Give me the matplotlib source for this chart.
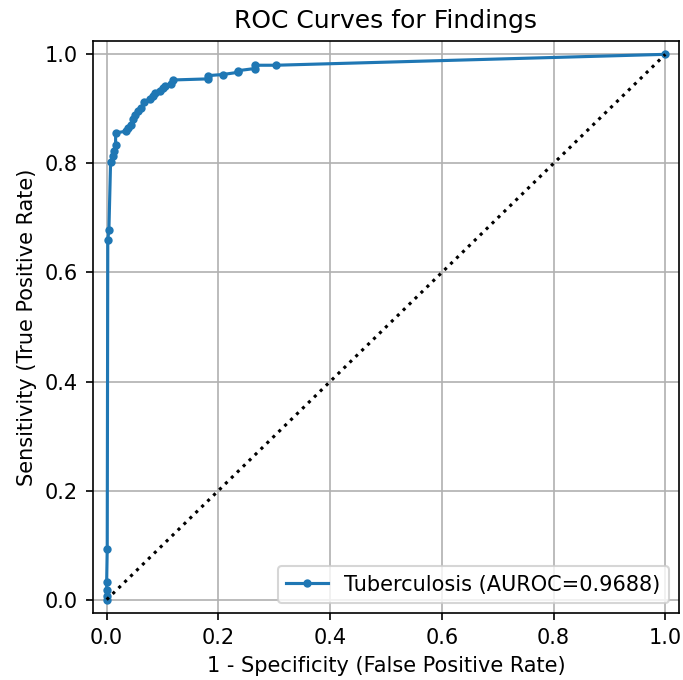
import matplotlib
matplotlib.use("Agg")
import matplotlib.pyplot as plt

fpr = [0.0, 0.0, 0.0, 0.0, 0.001, 0.002, 0.004, 0.007, 0.011, 0.014, 0.016, 0.016,
       0.035, 0.038, 0.043, 0.047, 0.050, 0.056, 0.062, 0.067, 0.077, 0.083, 0.087,
       0.095, 0.101, 0.105, 0.116, 0.119, 0.182, 0.182, 0.208, 0.235, 0.235, 0.265,
       0.265, 0.303, 1.0]
tpr = [0.0, 0.006, 0.018, 0.033, 0.093, 0.660, 0.678, 0.802, 0.813, 0.823, 0.833, 0.856,
       0.859, 0.864, 0.870, 0.881, 0.888, 0.896, 0.902, 0.912, 0.919, 0.923, 0.930,
       0.933, 0.939, 0.942, 0.945, 0.953, 0.955, 0.961, 0.963, 0.967, 0.970, 0.974,
       0.980, 0.980, 1.0]
label = "Tuberculosis"
auroc = 0.9688

DPI = 150
fig = plt.figure(figsize=(683/DPI, 680/DPI), dpi=DPI)
ax = fig.add_axes([92.7/683, 1 - 613.3/680, (679.3-92.7)/683, (613.3-40.7)/680])
ax.plot(fpr, tpr, marker='.', label=f"{label} (AUROC={auroc:.4f})")
ax.plot([0, 1], [0, 1], 'k:')
ax.set_xlim(-0.025, 1.025)
ax.set_ylim(-0.025, 1.025)
ax.set_xlabel("1 - Specificity (False Positive Rate)")
ax.set_ylabel("Sensitivity (True Positive Rate)")
ax.set_title("ROC Curves for Findings")
ax.grid(True)
ax.legend(loc="lower right")
fig.savefig("out.png", dpi=DPI)
